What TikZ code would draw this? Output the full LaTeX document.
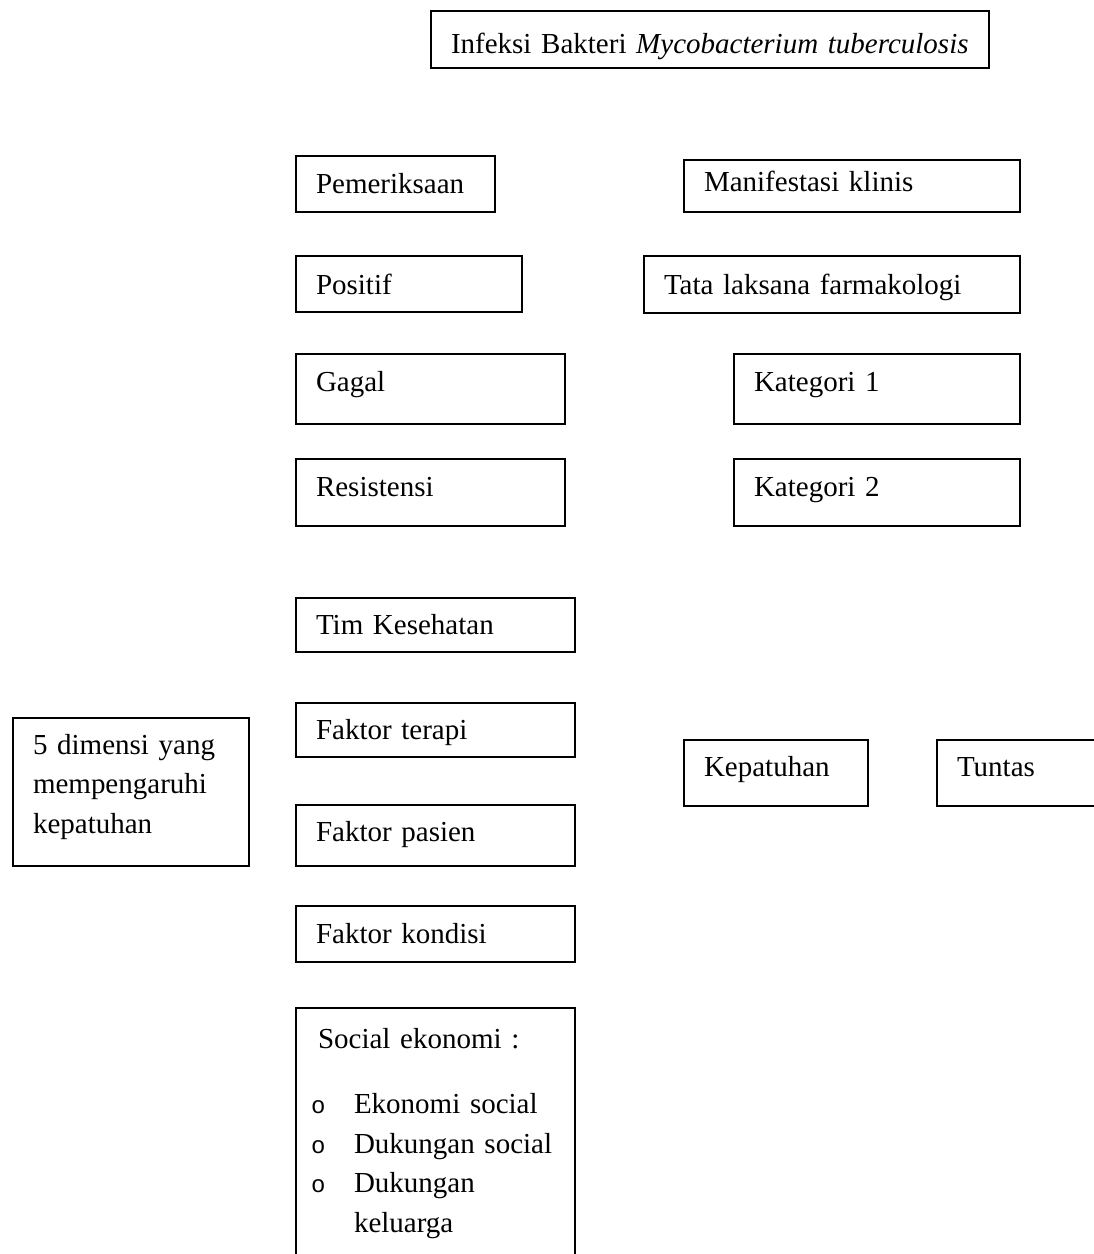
\documentclass[tikz,border=0pt]{standalone}
\usepackage{fontspec}
\setmainfont{Liberation Serif}
\setmonofont{Liberation Mono}
% kotak={text width}{text height}{text depth}
\tikzset{
  kotak/.style n args={3}{draw, line width=2pt, anchor=north west, align=left,
    inner xsep=20pt, inner ysep=0pt, text width=#1, text height=#2, text depth=#3,
    font=\fontsize{29}{39.5}\selectfont},
}
\newcommand{\bulet}{\makebox[43pt][l]{\fontsize{24}{24}\selectfont\ttfamily o}}
\begin{document}
\begin{tikzpicture}[x=1pt, y=-1pt]
  \useasboundingbox (0,0) rectangle (1094,1254);
  \clip (0,0) rectangle (1094,1254);
  \node[kotak={518pt}{42pt}{15pt}] (infeksi) at (430,10) {Infeksi Bakteri \textit{Mycobacterium tuberculosis}};

  % kolom kiri
  \node[kotak={159pt}{37pt}{19pt}] (periksa) at (295,155) {Pemeriksaan};
  \node[kotak={186pt}{38pt}{18pt}] (positif) at (295,255) {Positif};
  \node[kotak={229pt}{37pt}{33pt}] (gagal) at (295,353) {Gagal};
  \node[kotak={229pt}{37pt}{30pt}] (resisten) at (295,458) {Resistensi};
  \node[kotak={239pt}{36pt}{18pt}] (tim) at (295,597) {Tim Kesehatan};
  \node[kotak={239pt}{36pt}{18pt}] (terapi) at (295,702) {Faktor terapi};
  \node[kotak={239pt}{36pt}{25pt}] (pasien) at (295,804) {Faktor pasien};
  \node[kotak={239pt}{37pt}{19pt}] (kondisi) at (295,905) {Faktor kondisi};
  \node[kotak={279pt}{40pt}{260pt}, inner xsep=0pt] (sosial) at (295,1007)
    {\hspace*{22pt}Social ekonomi :\\[26pt]
     \hspace*{15pt}\bulet Ekonomi social\\
     \hspace*{15pt}\bulet Dukungan social\\
     \hspace*{15pt}\bulet Dukungan\\
     \hspace*{58pt}keluarga};
  \node[kotak={196pt}{36pt}{112pt}] (dimensi) at (12,717)
    {5 dimensi yang\\ mempengaruhi\\ kepatuhan};

  % kolom kanan
  \node[kotak={296pt}{31pt}{21pt}] (manifest) at (683,159) {Manifestasi klinis};
  \node[kotak={336pt}{38pt}{19pt}] (tatalaksana) at (643,255) {Tata laksana farmakologi};
  \node[kotak={246pt}{37pt}{33pt}] (kat1) at (733,353) {Kategori 1};
  \node[kotak={246pt}{37pt}{30pt}] (kat2) at (733,458) {Kategori 2};
  \node[kotak={144pt}{36pt}{30pt}] (patuh) at (683,739) {Kepatuhan};
  \node[kotak={160pt}{36pt}{30pt}] (tuntas) at (936,739) {Tuntas};
\end{tikzpicture}
\end{document}
